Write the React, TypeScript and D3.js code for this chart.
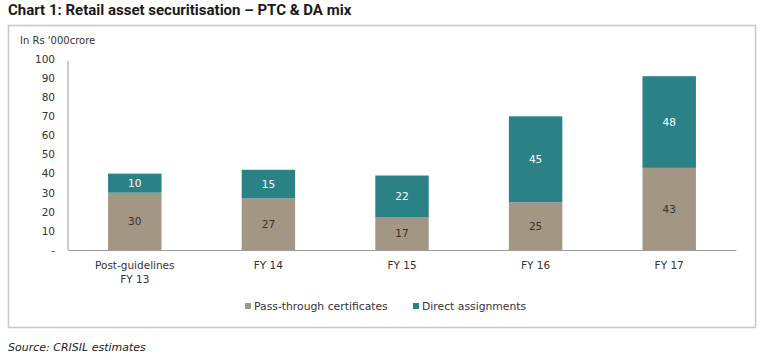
import React, { useEffect, useRef } from "react";
import * as d3 from "d3";

const categories = ["Post-guidelines\nFY 13", "FY 14", "FY 15", "FY 16", "FY 17"];
const ptcValues = [30, 27, 17, 25, 43];
const daValues = [10, 15, 22, 45, 48];
const yTicks = [0, 10, 20, 30, 40, 50, 60, 70, 80, 90, 100];
const seriesNames = ["Pass-through certificates", "Direct assignments"];

const PTC_COLOR = "#a39684";
const DA_COLOR = "#2a8287";
const FONT = "'DejaVu Sans', sans-serif";
const TITLE_FONT = "Roboto, sans-serif";

export default function App() {
  const svgRef = useRef<SVGSVGElement>(null);

  useEffect(() => {
    if (!svgRef.current) return;
    const svg = d3.select(svgRef.current);
    svg.selectAll("*").remove();

    // title + frame
    svg
      .append("text")
      .attr("x", 8)
      .attr("y", 15)
      .attr("font-family", TITLE_FONT)
      .attr("font-weight", "bold")
      .attr("font-size", 15)
      .attr("fill", "#1a1a1a")
      .text("Chart 1: Retail asset securitisation – PTC & DA mix");

    svg
      .append("rect")
      .attr("x", 8.5)
      .attr("y", 25.5)
      .attr("width", 747)
      .attr("height", 302)
      .attr("fill", "none")
      .attr("stroke", "#c8c8c8")
      .attr("stroke-width", 1.5);

    svg
      .append("text")
      .attr("x", 20)
      .attr("y", 44)
      .attr("font-family", FONT)
      .attr("font-size", 10)
      .attr("fill", "#333")
      .text("In Rs '000crore");

    const x = d3.scaleBand<number>().domain(d3.range(categories.length)).range([68, 736]).paddingInner(0.6).paddingOuter(0.3);
    const y = d3.scaleLinear().domain([0, 100]).range([250, 59]);

    // y axis
    const yAxis = svg
      .append("g")
      .attr("transform", "translate(68,0)")
      .call(
        d3
          .axisLeft(y)
          .tickValues(yTicks)
          .tickSize(0)
          .tickPadding(13)
          .tickFormat((d) => (d === 0 ? "-" : String(d)))
      );
    yAxis.select(".domain").attr("stroke", "#9a9a9a").attr("d", `M0,${y(0)}V${y(100) + 2}`);
    yAxis.selectAll("text").attr("font-family", FONT).attr("font-size", 10.5).attr("fill", "#333");

    // x axis
    const xAxis = svg
      .append("g")
      .attr("transform", `translate(0,${y(0)})`)
      .call(d3.axisBottom(x).tickSize(0).tickFormat(() => ""));
    xAxis.select(".domain").attr("stroke", "#9a9a9a");
    xAxis.selectAll(".tick text").remove();

    categories.forEach((c, i) => {
      const t = svg
        .append("text")
        .attr("x", (x(i) as number) + x.bandwidth() / 2)
        .attr("y", 269)
        .attr("text-anchor", "middle")
        .attr("font-family", FONT)
        .attr("font-size", 10.5)
        .attr("fill", "#333");
      c.split("\n").forEach((line, k) => {
        t.append("tspan")
          .attr("x", (x(i) as number) + x.bandwidth() / 2)
          .attr("dy", k === 0 ? 0 : 14)
          .text(line);
      });
    });

    // stacked bars
    const stack = categories.map((_, i) => ({ i, ptc: ptcValues[i], da: daValues[i] }));
    const g = svg.append("g");
    g.selectAll(".ptc")
      .data(stack)
      .enter()
      .append("rect")
      .attr("x", (d) => x(d.i) as number)
      .attr("y", (d) => y(d.ptc))
      .attr("width", x.bandwidth())
      .attr("height", (d) => y(0) - y(d.ptc))
      .attr("fill", PTC_COLOR);
    g.selectAll(".da")
      .data(stack)
      .enter()
      .append("rect")
      .attr("x", (d) => x(d.i) as number)
      .attr("y", (d) => y(d.ptc + d.da))
      .attr("width", x.bandwidth())
      .attr("height", (d) => y(d.ptc) - y(d.ptc + d.da))
      .attr("fill", DA_COLOR);

    g.selectAll(".ptcLabel")
      .data(stack)
      .enter()
      .append("text")
      .attr("x", (d) => (x(d.i) as number) + x.bandwidth() / 2)
      .attr("y", (d) => y(d.ptc / 2))
      .attr("dy", "0.35em")
      .attr("text-anchor", "middle")
      .attr("font-family", FONT)
      .attr("font-size", 10.5)
      .attr("fill", "#333")
      .text((d) => d.ptc);
    g.selectAll(".daLabel")
      .data(stack)
      .enter()
      .append("text")
      .attr("x", (d) => (x(d.i) as number) + x.bandwidth() / 2)
      .attr("y", (d) => y(d.ptc + d.da / 2))
      .attr("dy", "0.35em")
      .attr("text-anchor", "middle")
      .attr("font-family", FONT)
      .attr("font-size", 10.5)
      .attr("fill", "#fff")
      .text((d) => d.da);

    // legend
    const legendX = [245, 413];
    const colors = [PTC_COLOR, DA_COLOR];
    seriesNames.forEach((name, i) => {
      svg
        .append("rect")
        .attr("x", legendX[i])
        .attr("y", 303)
        .attr("width", 6)
        .attr("height", 6)
        .attr("fill", colors[i]);
      svg
        .append("text")
        .attr("x", legendX[i] + 9)
        .attr("y", 310)
        .attr("font-family", FONT)
        .attr("font-size", 10.8)
        .attr("fill", "#333")
        .text(name);
    });

    svg
      .append("text")
      .attr("x", 8)
      .attr("y", 351)
      .attr("font-family", FONT)
      .attr("font-style", "italic")
      .attr("font-size", 11)
      .attr("fill", "#222")
      .text("Source: CRISIL estimates");
  }, []);

  return (
    <svg
      ref={svgRef}
      width={763}
      height={362}
      style={{ position: "absolute", left: 0, top: 0, background: "#fff" }}
    />
  );
}
